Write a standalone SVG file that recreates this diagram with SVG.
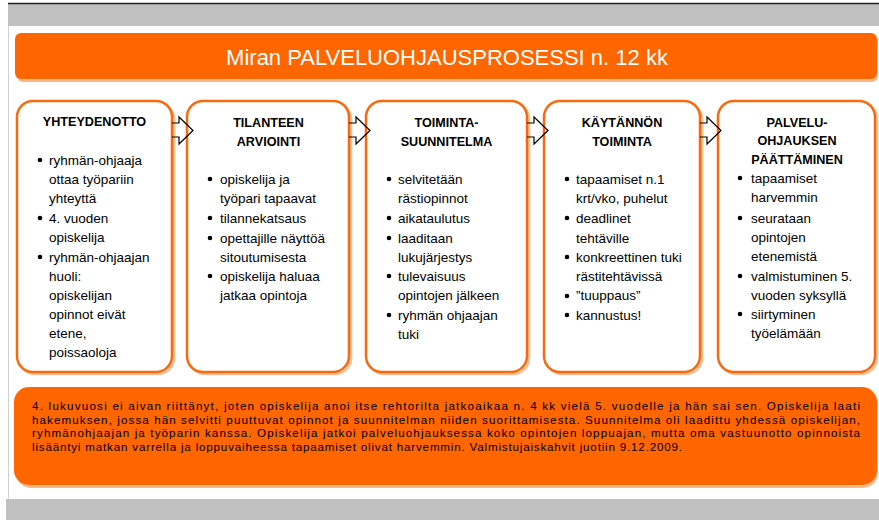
<svg xmlns="http://www.w3.org/2000/svg" width="879" height="520" viewBox="0 0 879 520">
<style>
.bg{fill:#c0c0c0}
.box{fill:#fff;stroke:#f96a0e;stroke-width:2.5}
.sh{fill:none;stroke:#fcc097;stroke-width:2.5}
.osh{fill:#fdb887}
.or{fill:#ff6600}
.h{font-family:"Liberation Sans",Arial,sans-serif;font-weight:bold;font-size:12.6px;text-anchor:middle;fill:#000}
.t{font-family:"Liberation Sans",Arial,sans-serif;font-size:13.5px;fill:#000}
.p{font-family:"Liberation Sans",Arial,sans-serif;font-size:11.6px;fill:#000}
.ti{font-family:"Liberation Sans",Arial,sans-serif;font-size:22px;fill:#fff;text-anchor:middle}
.arr{fill:none;stroke:#000;stroke-width:1.2;stroke-linejoin:miter}
.b{fill:#000}
</style>
<rect x="0" y="0" width="879" height="520" fill="#fff"/>
<rect class="bg" x="8" y="4" width="871" height="22"/>
<line x1="8" y1="3.5" x2="879" y2="3.5" stroke="#222" stroke-width="1.5"/>
<line x1="8.5" y1="26" x2="8.5" y2="499" stroke="#d0d0d0" stroke-width="1"/>
<rect class="bg" x="6" y="499" width="873" height="21"/>

<g id="title">
<rect class="osh" x="17" y="35" width="861" height="47" rx="6"/>
<rect class="or" x="15" y="33" width="862" height="46" rx="6"/>
<text class="ti" x="447" y="65">Miran PALVELUOHJAUSPROSESSI n. 12 kk</text>
</g>

<g id="n1">
<rect class="sh" x="19" y="103" width="155" height="271" rx="16"/>
<rect class="box" x="17" y="101" width="155" height="271" rx="16"/>
<text class="h" x="94.5" y="126">YHTEYDENOTTO</text>
<circle class="b" cx="40" cy="160" r="2.3"/>
<circle class="b" cx="40" cy="218" r="2.3"/>
<circle class="b" cx="40" cy="257" r="2.3"/>
<text class="t">
<tspan x="49" y="165">ryhmän-ohjaaja</tspan>
<tspan x="49" y="184">ottaa työpariin</tspan>
<tspan x="49" y="203">yhteyttä</tspan>
<tspan x="49" y="223">4. vuoden</tspan>
<tspan x="49" y="242">opiskelija</tspan>
<tspan x="49" y="262">ryhmän-ohjaajan</tspan>
<tspan x="49" y="281">huoli:</tspan>
<tspan x="49" y="300">opiskelijan</tspan>
<tspan x="49" y="319">opinnot eivät</tspan>
<tspan x="49" y="338">etene,</tspan>
<tspan x="49" y="357">poissaoloja</tspan>
</text>
</g>

<g id="n2">
<rect class="sh" x="189" y="103" width="162" height="271" rx="16"/>
<rect class="box" x="187" y="101" width="162" height="271" rx="16"/>
<text class="h" x="268.5" y="127">TILANTEEN</text>
<text class="h" x="268.5" y="146">ARVIOINTI</text>
<circle class="b" cx="210" cy="179" r="2.3"/>
<circle class="b" cx="210" cy="218" r="2.3"/>
<circle class="b" cx="210" cy="238" r="2.3"/>
<circle class="b" cx="210" cy="276" r="2.3"/>
<text class="t">
<tspan x="220" y="184">opiskelija ja</tspan>
<tspan x="220" y="203">työpari tapaavat</tspan>
<tspan x="220" y="223">tilannekatsaus</tspan>
<tspan x="220" y="243">opettajille näyttöä</tspan>
<tspan x="220" y="262">sitoutumisesta</tspan>
<tspan x="220" y="281">opiskelija haluaa</tspan>
<tspan x="220" y="300">jatkaa opintoja</tspan>
</text>
</g>

<g id="n3">
<rect class="sh" x="368" y="103" width="161" height="271" rx="16"/>
<rect class="box" x="366" y="101" width="161" height="271" rx="16"/>
<text class="h" x="446.5" y="127">TOIMINTA-</text>
<text class="h" x="446.5" y="146">SUUNNITELMA</text>
<circle class="b" cx="389" cy="179" r="2.3"/>
<circle class="b" cx="389" cy="218" r="2.3"/>
<circle class="b" cx="389" cy="238" r="2.3"/>
<circle class="b" cx="389" cy="276" r="2.3"/>
<circle class="b" cx="389" cy="315" r="2.3"/>
<text class="t">
<tspan x="398" y="184">selvitetään</tspan>
<tspan x="398" y="203">rästiopinnot</tspan>
<tspan x="398" y="223">aikataulutus</tspan>
<tspan x="398" y="243">laaditaan</tspan>
<tspan x="398" y="262">lukujärjestys</tspan>
<tspan x="398" y="281">tulevaisuus</tspan>
<tspan x="398" y="300">opintojen jälkeen</tspan>
<tspan x="398" y="320">ryhmän ohjaajan</tspan>
<tspan x="398" y="339">tuki</tspan>
</text>
</g>

<g id="n4">
<rect class="sh" x="546" y="103" width="156" height="271" rx="16"/>
<rect class="box" x="544" y="101" width="156" height="271" rx="16"/>
<text class="h" x="622" y="127">KÄYTÄNNÖN</text>
<text class="h" x="622" y="146">TOIMINTA</text>
<circle class="b" cx="567" cy="179" r="2.3"/>
<circle class="b" cx="567" cy="218" r="2.3"/>
<circle class="b" cx="567" cy="257" r="2.3"/>
<circle class="b" cx="567" cy="296" r="2.3"/>
<circle class="b" cx="567" cy="315" r="2.3"/>
<text class="t">
<tspan x="576" y="184">tapaamiset n.1</tspan>
<tspan x="576" y="203">krt/vko, puhelut</tspan>
<tspan x="576" y="223">deadlinet</tspan>
<tspan x="576" y="243">tehtäville</tspan>
<tspan x="576" y="262">konkreettinen tuki</tspan>
<tspan x="576" y="281">rästitehtävissä</tspan>
<tspan x="576" y="300">”tuuppaus”</tspan>
<tspan x="576" y="320">kannustus!</tspan>
</text>
</g>

<g id="n5">
<rect class="sh" x="720" y="103" width="157" height="271" rx="16"/>
<rect class="box" x="718" y="101" width="157" height="271" rx="16"/>
<text class="h" x="797" y="127">PALVELU-</text>
<text class="h" x="797" y="145">OHJAUKSEN</text>
<text class="h" x="797" y="164">PÄÄTTÄMINEN</text>
<circle class="b" cx="740" cy="178" r="2.3"/>
<circle class="b" cx="740" cy="218" r="2.3"/>
<circle class="b" cx="740" cy="276" r="2.3"/>
<circle class="b" cx="740" cy="314" r="2.3"/>
<text class="t">
<tspan x="751" y="183">tapaamiset</tspan>
<tspan x="751" y="202">harvemmin</tspan>
<tspan x="751" y="223">seurataan</tspan>
<tspan x="751" y="242">opintojen</tspan>
<tspan x="751" y="261">etenemistä</tspan>
<tspan x="751" y="281">valmistuminen 5.</tspan>
<tspan x="751" y="300">vuoden syksyllä</tspan>
<tspan x="751" y="319">siirtyminen</tspan>
<tspan x="751" y="338">työelämään</tspan>
</text>
</g>

<g id="connectors">
<polyline class="arr" points="172,123 179,123 179,117 193,130.5 179,144 179,137 172,137"/>
<polyline class="arr" points="349,123 356,123 356,117 370,130.5 356,144 356,137 349,137"/>
<polyline class="arr" points="527,123 534,123 534,117 548,130.5 534,144 534,137 527,137"/>
<polyline class="arr" points="700,123 707,123 707,117 721,130.5 707,144 707,137 700,137"/>
</g>

<g id="summary">
<rect class="osh" x="16" y="389" width="862" height="99" rx="15"/>
<rect class="or" x="14" y="387" width="863" height="98" rx="15"/>
<text class="p">
<tspan x="32" y="410" textLength="828" lengthAdjust="spacing">4. lukuvuosi ei aivan riittänyt, joten opiskelija anoi itse rehtorilta jatkoaikaa n. 4 kk vielä 5. vuodelle ja hän sai sen. Opiskelija laati</tspan>
<tspan x="32" y="423.5" textLength="828" lengthAdjust="spacing">hakemuksen, jossa hän selvitti puuttuvat opinnot ja suunnitelman niiden suorittamisesta. Suunnitelma oli laadittu yhdessä opiskelijan,</tspan>
<tspan x="32" y="437" textLength="828" lengthAdjust="spacing">ryhmänohjaajan ja työparin kanssa. Opiskelija jatkoi palveluohjauksessa koko opintojen loppuajan, mutta oma vastuunotto opinnoista</tspan>
<tspan x="32" y="450.5" textLength="650" lengthAdjust="spacing">lisääntyi matkan varrella ja loppuvaiheessa tapaamiset olivat harvemmin. Valmistujaiskahvit juotiin 9.12.2009.</tspan>
</text>
</g>
</svg>
